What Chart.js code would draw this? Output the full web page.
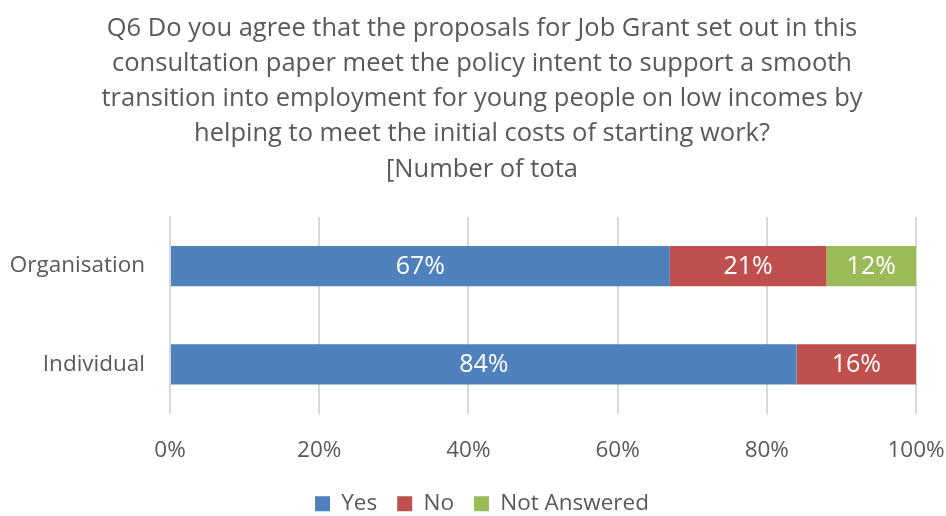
<!DOCTYPE html>
<html>
<head>
<meta charset="utf-8">
<script src="https://cdn.jsdelivr.net/npm/chart.js@4"></script>
<style>
  html, body { margin: 0; padding: 0; background: #fff; }
  #wrap { width: 946px; height: 516px; }
</style>
</head>
<body>
<div id="wrap"><canvas id="q6Chart"></canvas></div>
<script>
const categories = ['Organisation', 'Individual'];
const seriesNames = ['Yes', 'No', 'Not Answered'];
const yesValues = [67, 84];
const noValues = [21, 16];
const notAnsweredValues = [12, 0];
const tickLabels = ['0%', '20%', '40%', '60%', '80%', '100%'];
const titleLines = [
    'Q6 Do you agree that the proposals for Job Grant set out in this',
    'consultation paper meet the policy intent to support a smooth',
    'transition into employment for young people on low incomes by',
    'helping to meet the initial costs of starting work?',
    '[Number of tota'
];

const fontFamily = '"Open Sans", "Noto Sans", sans-serif';
const textGrey = '#595959';

// writes the percentage in the middle of each bar segment
const segmentLabels = {
    id: 'segmentLabels',
    afterDatasetsDraw(chart) {
        const ctx = chart.ctx;
        ctx.save();
        ctx.fillStyle = '#ffffff';
        ctx.font = '25px ' + fontFamily;
        ctx.textAlign = 'center';
        ctx.textBaseline = 'middle';
        chart.data.datasets.forEach((ds, i) => {
            const meta = chart.getDatasetMeta(i);
            meta.data.forEach((bar, j) => {
                const v = ds.data[j];
                if (!v) return;
                const cx = (bar.base + bar.x) / 2;
                ctx.fillText(v + '%', cx, bar.y + 1);
            });
        });
        ctx.restore();
    }
};

// title and legend sit centred a bit right of the page middle
const shiftBlocks = {
    id: 'shiftBlocks',
    afterLayout(chart) {
        if (chart.titleBlock) chart.titleBlock.left += 48;
        if (chart.legend) chart.legend.left += 48;
    }
};

const ctx = document.getElementById('q6Chart').getContext('2d');
const chart = new Chart(ctx, {
    type: 'bar',
    data: {
        labels: categories,
        datasets: [
            { label: seriesNames[0], data: yesValues, backgroundColor: '#4F81BD' },
            { label: seriesNames[1], data: noValues, backgroundColor: '#C0504D' },
            { label: seriesNames[2], data: notAnsweredValues, backgroundColor: '#9BBB59' }
        ]
    },
    options: {
        indexAxis: 'y',
        responsive: true,
        maintainAspectRatio: false,
        animation: false,
        datasets: {
            bar: { categoryPercentage: 0.41, barPercentage: 1, borderWidth: 0 }
        },
        layout: { padding: { top: 11, right: 30, left: 0, bottom: -9 } },
        scales: {
            x: {
                stacked: true,
                min: 0,
                max: 100,
                afterBuildTicks(scale) {
                    scale.ticks = tickLabels.map((t, i) => ({ value: i * 20 }));
                },
                afterFit(scale) {
                    scale.height = 59;
                    // let the end labels hang over the plot edges
                    scale.paddingLeft = 0;
                    scale.paddingRight = 0;
                },
                ticks: {
                    callback: (v, i) => tickLabels[i],
                    color: textGrey,
                    font: { family: fontFamily, size: 22.5 },
                    padding: 24,
                    maxRotation: 0
                },
                grid: { color: '#d9d9d9', lineWidth: 2, drawTicks: false },
                border: { display: false }
            },
            y: {
                stacked: true,
                afterFit(scale) { scale.width = 170; },
                ticks: {
                    color: textGrey,
                    font: { family: fontFamily, size: 22.5 },
                    padding: 17
                },
                grid: { display: false },
                border: { color: '#d9d9d9', width: 2 }
            }
        },
        plugins: {
            title: {
                display: true,
                text: titleLines,
                color: textGrey,
                font: { family: fontFamily, size: 25.5, weight: 'normal', lineHeight: 1.38 },
                padding: { top: 0, bottom: 30 }
            },
            legend: {
                position: 'bottom',
                labels: {
                    color: textGrey,
                    font: { family: fontFamily, size: 22.5 },
                    boxWidth: 15,
                    boxHeight: 15,
                    padding: 20
                }
            },
            tooltip: { enabled: false }
        }
    },
    plugins: [segmentLabels, shiftBlocks]
});
</script>
</body>
</html>
